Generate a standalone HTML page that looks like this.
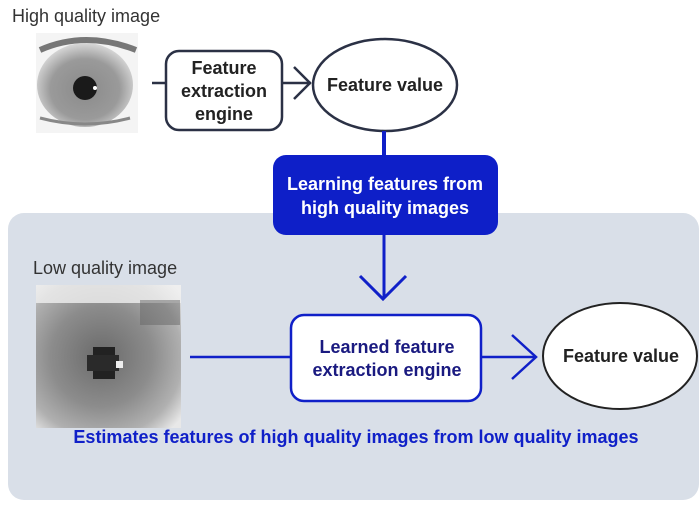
<!DOCTYPE html>
<html><head><style>
body{margin:0;width:700px;height:501px;background:#fff;overflow:hidden;font-family:"Liberation Sans",sans-serif}
</style></head><body>
<svg width="700" height="501" viewBox="0 0 700 501" xmlns="http://www.w3.org/2000/svg">
<defs>
<radialGradient id="ir" cx="0.5" cy="0.55" r="0.6"><stop offset="0" stop-color="#8a8a8a"/><stop offset="0.6" stop-color="#9a9a9a"/><stop offset="1" stop-color="#e8e8e8"/></radialGradient>
<radialGradient id="lr" cx="0.45" cy="0.5" r="0.7"><stop offset="0" stop-color="#6a6a6a"/><stop offset="0.5" stop-color="#8c8c8c"/><stop offset="0.8" stop-color="#b0b0b0"/><stop offset="1" stop-color="#e8e8e8"/></radialGradient>
</defs>
<rect x="8" y="213" width="691" height="287" rx="16" fill="#d9dfe8"/>
<text x="12" y="22" font-size="18" fill="#333">High quality image</text>
<text x="33" y="274" font-size="18" fill="#333">Low quality image</text>
<!-- hq eye -->
<rect x="36" y="33" width="102" height="100" fill="#f4f4f4"/>
<ellipse cx="85" cy="85" rx="48" ry="42" fill="url(#ir)"/>
<path d="M40 50 Q85 30 136 50" stroke="#777" stroke-width="6" fill="none"/>
<path d="M40 118 Q85 130 130 118" stroke="#888" stroke-width="3" fill="none"/>
<circle cx="85" cy="88" r="12" fill="#1a1a1a"/>
<circle cx="95" cy="88" r="2" fill="#fff"/>
<!-- lq eye -->
<rect x="36" y="285" width="145" height="143" fill="url(#lr)"/>
<rect x="36" y="285" width="145" height="18" fill="#f0f0f0" opacity="0.8"/>
<rect x="140" y="300" width="40" height="25" fill="#666" opacity="0.5"/>
<rect x="93" y="347" width="22" height="32" fill="#222"/>
<rect x="87" y="355" width="32" height="16" fill="#2a2a2a"/>
<rect x="116" y="361" width="7" height="7" fill="#eee"/>
<!-- top row -->
<line x1="152" y1="83" x2="166" y2="83" stroke="#2b3145" stroke-width="2.5"/>
<rect x="166" y="51" width="116" height="79" rx="13" fill="#fff" stroke="#2b3145" stroke-width="2.5"/>
<g font-size="18" font-weight="bold" fill="#222" text-anchor="middle">
<text x="224" y="74">Feature</text><text x="224" y="97">extraction</text><text x="224" y="120">engine</text>
</g>
<line x1="282" y1="83" x2="311" y2="83" stroke="#2b3145" stroke-width="2.5"/>
<polyline points="294,67 310,83 294,99" fill="none" stroke="#2b3145" stroke-width="2.5"/>
<ellipse cx="385" cy="85" rx="72" ry="46" fill="#fff" stroke="#2b3145" stroke-width="2.5"/>
<text x="385" y="91" font-size="18" font-weight="bold" fill="#222" text-anchor="middle">Feature value</text>
<line x1="384" y1="131" x2="384" y2="156" stroke="#1020c8" stroke-width="4"/>
<rect x="273" y="155" width="225" height="80" rx="13" fill="#0e1fc8"/>
<g font-size="18" font-weight="bold" fill="#fff" text-anchor="middle">
<text x="385" y="190">Learning features from</text><text x="385" y="214">high quality images</text>
</g>
<line x1="384" y1="235" x2="384" y2="298" stroke="#1020c8" stroke-width="3"/>
<polyline points="360,276 383,299 406,276" fill="none" stroke="#1020c8" stroke-width="3"/>
<!-- bottom row -->
<line x1="190" y1="357" x2="291" y2="357" stroke="#1020c8" stroke-width="2.5"/>
<rect x="291" y="315" width="190" height="86" rx="13" fill="#fff" stroke="#1020c8" stroke-width="2.5"/>
<g font-size="18" font-weight="bold" fill="#1a1a80" text-anchor="middle">
<text x="387" y="353">Learned feature</text><text x="387" y="376">extraction engine</text>
</g>
<line x1="481" y1="357" x2="536" y2="357" stroke="#1020c8" stroke-width="2.5"/>
<polyline points="512,335 536,357 512,379" fill="none" stroke="#1020c8" stroke-width="2.5"/>
<ellipse cx="620" cy="356" rx="77" ry="53" fill="#fff" stroke="#222" stroke-width="2"/>
<text x="621" y="362" font-size="18" font-weight="bold" fill="#222" text-anchor="middle">Feature value</text>
<text x="356" y="443" font-size="18" font-weight="bold" fill="#1020c8" text-anchor="middle">Estimates features of high quality images from low quality images</text>
</svg>
</body></html>
